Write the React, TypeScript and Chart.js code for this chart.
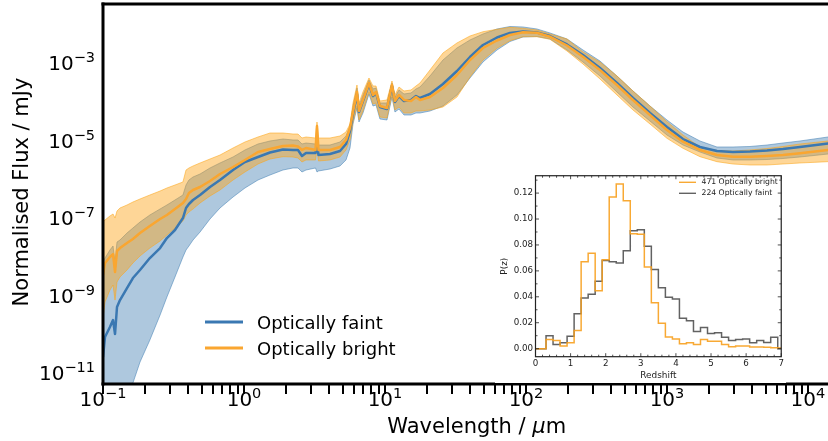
import React, { useEffect, useRef } from "react";
import { Chart, registerables } from "chart.js";

Chart.register(...registerables);

const FONT = '"DejaVu Sans", sans-serif';

// Rest-frame wavelength grid (μm) shared by all SED curves
const wavelength = [
  0.1, 0.1033, 0.112, 0.1178, 0.1217, 0.1257, 0.132, 0.148, 0.163, 0.183,
  0.215, 0.254, 0.284, 0.324, 0.369, 0.388, 0.407, 0.435, 0.488, 0.574,
  0.676, 0.836, 1.016, 1.257, 1.529, 1.89, 2.226, 2.415, 2.578, 2.753,
  3.215, 3.294, 3.376, 4.074, 4.797, 5.29, 5.647, 5.93, 6.33, 6.54,
  6.98, 7.7, 8.22, 8.64, 9.21, 10.33, 11.21, 11.77, 12.57, 13.64,
  15.29, 16.59, 17.71, 20.85, 25.78, 32.4, 40.07, 49.55, 62.28, 77.0,
  95.2, 119.7, 148.0, 195.4, 253.7, 334.8, 442, 574.1, 757.7, 1000,
  1299, 1714, 2262, 2939, 3879, 5120, 6649, 8776, 13870, 19860,
];

// log10 of normalised flux density (mJy)
const faintMedianLog = [
  -10.652, -10.135, -9.877, -9.697, -10.058, -9.361, -9.181, -8.871, -8.613, -8.406,
  -8.097, -7.839, -7.581, -7.374, -7.065, -6.806, -6.703, -6.6, -6.471, -6.264,
  -6.084, -5.826, -5.619, -5.49, -5.374, -5.297, -5.309, -5.309, -5.464, -5.387,
  -5.387, -5.129, -5.439, -5.413, -5.335, -5.155, -4.819, -4.381, -3.864, -4.329,
  -4.045, -3.606, -3.916, -3.839, -4.2, -4.252, -3.658, -4.071, -3.916, -4.045,
  -4.019, -3.916, -3.968, -3.864, -3.606, -3.271, -2.91, -2.6, -2.406, -2.29,
  -2.252, -2.277, -2.368, -2.587, -2.858, -3.194, -3.581, -3.968, -4.355, -4.716,
  -5.026, -5.232, -5.335, -5.361, -5.348, -5.322, -5.284, -5.232, -5.142, -5.077,
];
const faintLowerLog = [
  -13.568, -13.439, -13.052, -12.793, -12.69, -12.535, -12.277, -11.761, -11.323, -10.781,
  -10.213, -9.568, -9.103, -8.587, -8.071, -7.89, -7.787, -7.632, -7.426, -7.09,
  -6.806, -6.523, -6.29, -6.084, -5.955, -5.826, -5.774, -5.774, -5.877, -5.826,
  -5.774, -5.877, -5.851, -5.8, -5.722, -5.567, -5.258, -4.639, -4.226, -4.587,
  -4.355, -3.864, -4.174, -4.148, -4.51, -4.535, -3.942, -4.329, -4.252, -4.406,
  -4.406, -4.355, -4.355, -4.303, -4.174, -3.89, -3.452, -3.039, -2.729, -2.51,
  -2.394, -2.381, -2.445, -2.729, -3.039, -3.4, -3.813, -4.2, -4.561, -4.923,
  -5.181, -5.361, -5.516, -5.567, -5.567, -5.555, -5.529, -5.49, -5.413, -5.361,
];
const faintUpperLog = [
  -8.2, -8.097, -7.89, -7.787, -8.2, -7.684, -7.632, -7.452, -7.323, -7.168,
  -6.987, -6.832, -6.729, -6.6, -6.471, -6.213, -6.084, -6.006, -5.929, -5.774,
  -5.645, -5.49, -5.309, -5.155, -5.077, -5.026, -5.051, -5.051, -5.155, -5.129,
  -5.155, -4.793, -5.181, -5.181, -5.103, -4.948, -4.69, -4.174, -3.71, -4.174,
  -3.89, -3.503, -3.735, -3.71, -4.097, -4.097, -3.581, -3.942, -3.761, -3.864,
  -3.839, -3.735, -3.684, -3.4, -2.987, -2.677, -2.471, -2.316, -2.187, -2.123,
  -2.135, -2.187, -2.29, -2.445, -2.729, -3.013, -3.4, -3.787, -4.174, -4.535,
  -4.845, -5.077, -5.232, -5.232, -5.219, -5.181, -5.129, -5.077, -4.974, -4.923,
];
const brightMedianLog = [
  -8.536, -8.226, -8.071, -7.994, -8.458, -7.916, -7.839, -7.71, -7.606, -7.452,
  -7.271, -7.09, -6.987, -6.832, -6.677, -6.574, -6.419, -6.342, -6.264, -6.11,
  -5.929, -5.748, -5.567, -5.361, -5.284, -5.206, -5.194, -5.219, -5.309, -5.258,
  -5.309, -4.69, -5.309, -5.309, -5.232, -5.051, -4.742, -4.329, -3.813, -4.303,
  -4.019, -3.581, -3.89, -3.813, -4.174, -4.226, -3.632, -4.045, -3.89, -4.019,
  -4.045, -3.942, -4.019, -3.942, -3.71, -3.374, -2.987, -2.677, -2.484, -2.342,
  -2.272, -2.283, -2.386, -2.613, -2.902, -3.245, -3.632, -4.019, -4.406, -4.793,
  -5.095, -5.309, -5.439, -5.482, -5.482, -5.464, -5.439, -5.395, -5.309, -5.258,
];
const brightLowerLog = [
  -9.645, -9.232, -8.923, -8.794, -9.181, -8.716, -8.587, -8.406, -8.226, -8.045,
  -7.839, -7.658, -7.503, -7.323, -7.142, -6.987, -6.91, -6.832, -6.677, -6.497,
  -6.342, -6.084, -5.877, -5.671, -5.542, -5.482, -5.49, -5.516, -5.619, -5.567,
  -5.567, -5.309, -5.593, -5.567, -5.49, -5.309, -5.051, -4.587, -4.174, -4.535,
  -4.303, -3.813, -4.123, -4.097, -4.458, -4.484, -3.89, -4.277, -4.2, -4.355,
  -4.355, -4.303, -4.303, -4.277, -4.2, -3.942, -3.426, -2.987, -2.685, -2.489,
  -2.386, -2.386, -2.453, -2.755, -3.09, -3.477, -3.89, -4.277, -4.639, -5.008,
  -5.266, -5.482, -5.611, -5.671, -5.697, -5.697, -5.671, -5.645, -5.611, -5.567,
];
const brightUpperLog = [
  -7.168, -7.116, -7.013, -6.961, -7.065, -6.884, -6.806, -6.729, -6.652, -6.574,
  -6.471, -6.368, -6.29, -6.213, -6.135, -5.826, -5.774, -5.722, -5.645, -5.542,
  -5.439, -5.258, -5.103, -4.974, -4.871, -4.871, -4.897, -4.897, -5.0, -4.974,
  -5.0, -4.587, -5.0, -5.0, -4.948, -4.845, -4.639, -4.097, -3.632, -4.097,
  -3.813, -3.452, -3.658, -3.658, -4.045, -4.019, -3.529, -3.89, -3.684, -3.787,
  -3.761, -3.658, -3.581, -3.245, -2.806, -2.548, -2.368, -2.257, -2.195, -2.143,
  -2.169, -2.213, -2.316, -2.445, -2.78, -3.039, -3.4, -3.787, -4.174, -4.579,
  -4.923, -5.232, -5.322, -5.335, -5.309, -5.271, -5.219, -5.155, -5.077, -5.026,
];

// Axis ranges, tick positions and labelled decades
const xMin = 0.1;
const xMax = 2e4;
const yMin = 4.49e-12;
const yMax = 0.0287;
const xDecades = [-1, 0, 1, 2, 3, 4];
const yDecades = [-3, -5, -7, -9, -11];
const xTickMultipliers = [1, 2, 3, 4, 5, 6, 7, 8, 9];

// Redshift distributions (bin centres, normalised to unit sum)
const redshiftCentres = [
  0, 0.2, 0.4, 0.6, 0.8, 1.0, 1.2, 1.4, 1.6, 1.8, 2.0, 2.2, 2.4, 2.6, 2.8, 3.0, 3.2, 3.4,
  3.6, 3.8, 4.0, 4.2, 4.4, 4.6, 4.8, 5.0, 5.2, 5.4, 5.6, 5.8, 6.0, 6.2, 6.4, 6.6, 6.8, 7.0,
];
const brightPz = [
  0, 0, 0.007, 0.0063, 0.002, 0.0045, 0.014, 0.067, 0.0736, 0.0447, 0.0686, 0.117, 0.127,
  0.114, 0.0887, 0.0882, 0.063, 0.0354, 0.0196, 0.009, 0.0075, 0.0038, 0.0045, 0.0033,
  0.007, 0.0058, 0.0058, 0.0033, 0.0015, 0.002, 0.002, 0.0013, 0.0013, 0.001, 0.0008, 0.0005,
];
const faintPz = [
  0, 0, 0.01, 0.0033, 0.0045, 0.0095, 0.027, 0.039, 0.042, 0.052, 0.068, 0.067, 0.066,
  0.0756, 0.091, 0.0917, 0.079, 0.061, 0.047, 0.0397, 0.0384, 0.0234, 0.0216, 0.0133,
  0.0163, 0.0116, 0.0123, 0.0088, 0.0063, 0.007, 0.0075, 0.0045, 0.0063, 0.0048, 0.0088, 0,
];
const pzTicks = [0, 0.02, 0.04, 0.06, 0.08, 0.1, 0.12];
const pzMin = -0.0062;
const pzMax = 0.1334;

const BLUE = "rgb(58,120,178)";
const ORANGE = "rgb(250,166,48)";
const BLUE_FILL = "rgba(70,130,180,0.44)";
const BLUE_EDGE = "rgba(70,130,180,0.55)";
const ORANGE_FILL = "rgba(252,165,25,0.45)";
const ORANGE_EDGE = "rgba(252,165,25,0.55)";

const toPoints = (logs: number[]) => wavelength.map((w, i) => ({ x: w, y: Math.pow(10, logs[i]) }));

function drawPower(ctx: CanvasRenderingContext2D, exp: string, x: number, baseY: number, align: "center" | "right") {
  ctx.font = `20px ${FONT}`;
  const wBase = ctx.measureText("10").width;
  ctx.font = `14.5px ${FONT}`;
  const wExp = ctx.measureText(exp).width;
  const total = wBase + wExp;
  const left = align === "center" ? x - total / 2 : x - total;
  ctx.textAlign = "left";
  ctx.textBaseline = "alphabetic";
  ctx.font = `20px ${FONT}`;
  ctx.fillText("10", left, baseY);
  ctx.font = `14.5px ${FONT}`;
  ctx.fillText(exp, left + wBase, baseY - 8);
}

const expText = (n: number) => (n < 0 ? "\u2212" + Math.abs(n) : String(n));

const sedDecor = {
  id: "sedDecor",
  afterDraw(chart: any) {
    const ctx: CanvasRenderingContext2D = chart.ctx;
    const area = chart.chartArea;
    const xs = chart.scales.x;
    const ys = chart.scales.y;
    const x0 = area.left;
    const x1 = area.right;
    const y0 = area.top;
    const y1 = area.bottom;
    ctx.save();
    ctx.fillStyle = "#000";
    ctx.strokeStyle = "#000";

    // frame: left, top and bottom spines
    ctx.fillRect(x0 - 1.5, y0 - 1.5, x1 - x0 + 3, 3);
    ctx.fillRect(x0 - 1.5, y1 - 1.5, x1 - x0 + 3, 3);
    ctx.fillRect(x0 - 1.5, y0 - 1.5, 3, y1 - y0 + 3);

    // outward tick marks on the wavelength axis
    ctx.lineWidth = 2;
    ctx.beginPath();
    for (const n of xDecades) {
      for (const k of xTickMultipliers) {
        const v = k * Math.pow(10, n);
        if (v < xMin || v > xMax) continue;
        const px = Math.round(xs.getPixelForValue(v));
        ctx.moveTo(px, y1 + 1);
        ctx.lineTo(px, y1 + 10);
      }
    }
    ctx.stroke();

    for (const n of xDecades) {
      const px = xs.getPixelForValue(Math.pow(10, n));
      drawPower(ctx, expText(n), px, 406, "center");
    }
    for (const n of yDecades) {
      const py = ys.getPixelForValue(Math.pow(10, n));
      drawPower(ctx, expText(n), 95, py + 9.5, "right");
    }

    // x axis title with italic mu
    const t1 = "Wavelength / ";
    ctx.font = `21px ${FONT}`;
    const w1 = ctx.measureText(t1).width;
    const wm = ctx.measureText("m").width;
    ctx.font = `italic 21px ${FONT}`;
    const wmu = ctx.measureText("\u03bc").width;
    const cx = (x0 + x1) / 2;
    let tx = cx - (w1 + wmu + wm) / 2;
    ctx.textAlign = "left";
    ctx.textBaseline = "alphabetic";
    ctx.font = `21px ${FONT}`;
    ctx.fillText(t1, tx, 432.5);
    tx += w1;
    ctx.font = `italic 21px ${FONT}`;
    ctx.fillText("\u03bc", tx, 432.5);
    tx += wmu;
    ctx.font = `21px ${FONT}`;
    ctx.fillText("m", tx, 432.5);

    // y axis title
    ctx.save();
    ctx.translate(28, 192);
    ctx.rotate(-Math.PI / 2);
    ctx.textAlign = "center";
    ctx.font = `21px ${FONT}`;
    ctx.fillText("Normalised Flux / mJy", 0, 0);
    ctx.restore();

    // legend
    const entries = [
      { label: "Optically faint", color: BLUE, y: 322 },
      { label: "Optically bright", color: ORANGE, y: 348 },
    ];
    for (const e of entries) {
      ctx.strokeStyle = e.color;
      ctx.lineWidth = 3;
      ctx.beginPath();
      ctx.moveTo(205, e.y);
      ctx.lineTo(243, e.y);
      ctx.stroke();
      ctx.fillStyle = "#000";
      ctx.font = `18px ${FONT}`;
      ctx.textAlign = "left";
      ctx.textBaseline = "alphabetic";
      ctx.fillText(e.label, 257, e.y + 6.5);
    }
    ctx.restore();
  },
};

const insetDecor = {
  id: "insetDecor",
  afterDraw(chart: any) {
    const { ctx, chartArea } = chart;
    const { left, right, top, bottom } = chartArea;
    const xs = chart.scales.x;
    const ys = chart.scales.y;
    ctx.save();
    ctx.strokeStyle = "#222";
    ctx.lineWidth = 1.2;
    ctx.strokeRect(left, top, right - left, bottom - top);

    ctx.lineWidth = 0.8;
    ctx.beginPath();
    for (let i = 0; i <= 35; i++) {
      const px = xs.getPixelForValue(i * 0.2);
      const len = i % 5 === 0 ? 3.5 : 2;
      ctx.moveTo(px, bottom);
      ctx.lineTo(px, bottom - len);
      ctx.moveTo(px, top);
      ctx.lineTo(px, top + len);
    }
    for (let i = 0; i <= 13; i++) {
      const py = ys.getPixelForValue(i * 0.01);
      const len = i % 2 === 0 ? 3.5 : 2;
      ctx.moveTo(left, py);
      ctx.lineTo(left + len, py);
      ctx.moveTo(right, py);
      ctx.lineTo(right - len, py);
    }
    ctx.stroke();

    // legend
    const entries = [
      { label: "471 Optically bright", color: "rgba(247,160,30,0.9)", y: 14.3 },
      { label: "224 Optically faint", color: "rgba(70,70,70,0.85)", y: 25.3 },
    ];
    for (const e of entries) {
      ctx.strokeStyle = e.color;
      ctx.lineWidth = 1.4;
      ctx.beginPath();
      ctx.moveTo(184, e.y);
      ctx.lineTo(201, e.y);
      ctx.stroke();
      ctx.fillStyle = "#222";
      ctx.font = `7.7px ${FONT}`;
      ctx.textAlign = "left";
      ctx.textBaseline = "middle";
      ctx.fillText(e.label, 206.5, e.y);
    }

    // axis titles
    ctx.fillStyle = "#222";
    ctx.font = `8.9px ${FONT}`;
    ctx.textAlign = "center";
    ctx.textBaseline = "middle";
    ctx.fillText("Redshift", (left + right) / 2, 207.7);
    ctx.save();
    ctx.translate(10, (top + bottom) / 2);
    ctx.rotate(-Math.PI / 2);
    ctx.fillText("P(z)", 0, 0);
    ctx.restore();
    ctx.restore();
  },
};

export default function App() {
  const mainRef = useRef<HTMLCanvasElement>(null);
  const insetRef = useRef<HTMLCanvasElement>(null);

  useEffect(() => {
    const main = new Chart(mainRef.current as HTMLCanvasElement, {
      type: "line",
      data: {
        datasets: [
          { label: "Optically faint", data: toPoints(faintMedianLog), borderColor: BLUE, borderWidth: 2.5, fill: false, order: 2 },
          { label: "Optically bright", data: toPoints(brightMedianLog), borderColor: ORANGE, borderWidth: 2.5, fill: false, order: 1 },
          { label: "faint lower", data: toPoints(faintLowerLog), borderColor: BLUE_EDGE, borderWidth: 1, fill: false, order: 6 },
          { label: "faint upper", data: toPoints(faintUpperLog), borderColor: BLUE_EDGE, borderWidth: 1, fill: 2, backgroundColor: BLUE_FILL, order: 6 },
          { label: "bright lower", data: toPoints(brightLowerLog), borderColor: ORANGE_EDGE, borderWidth: 1, fill: false, order: 4 },
          { label: "bright upper", data: toPoints(brightUpperLog), borderColor: ORANGE_EDGE, borderWidth: 1, fill: 4, backgroundColor: ORANGE_FILL, order: 4 },
        ] as any,
      },
      options: {
        animation: false,
        responsive: false,
        maintainAspectRatio: false,
        devicePixelRatio: 1,
        layout: { padding: { top: 4, left: 0, right: 19.6, bottom: 0 } },
        plugins: { legend: { display: false }, tooltip: { enabled: false } },
        elements: { point: { radius: 0 }, line: { tension: 0, borderJoinStyle: "round" } },
        scales: {
          x: {
            type: "logarithmic",
            min: xMin,
            max: xMax,
            afterFit: (s: any) => {
              s.height = 57;
            },
            ticks: { display: false },
            grid: { display: false },
            border: { display: false },
          },
          y: {
            type: "logarithmic",
            min: yMin,
            max: yMax,
            afterFit: (s: any) => {
              s.width = 103;
            },
            ticks: { display: false },
            grid: { display: false },
            border: { display: false },
          },
        },
      } as any,
      plugins: [sedDecor],
    });

    const inset = new Chart(insetRef.current as HTMLCanvasElement, {
      type: "line",
      data: {
        datasets: [
          {
            label: "471 Optically bright",
            data: redshiftCentres.map((z, i) => ({ x: z, y: brightPz[i] })),
            stepped: "middle",
            borderColor: "rgba(247,160,30,0.9)",
            borderWidth: 1.5,
            fill: false,
          },
          {
            label: "224 Optically faint",
            data: redshiftCentres.map((z, i) => ({ x: z, y: faintPz[i] })),
            stepped: "middle",
            borderColor: "rgba(70,70,70,0.85)",
            borderWidth: 1.5,
            fill: false,
          },
        ] as any,
      },
      options: {
        animation: false,
        responsive: false,
        maintainAspectRatio: false,
        devicePixelRatio: 1,
        layout: { padding: { top: 4.3, left: 0, right: 1.5, bottom: 0 } },
        plugins: { legend: { display: false }, tooltip: { enabled: false } },
        elements: { point: { radius: 0 }, line: { tension: 0 } },
        scales: {
          x: {
            type: "linear",
            min: 0,
            max: 7,
            afterFit: (s: any) => {
              s.height = 26.3;
            },
            ticks: { stepSize: 1, font: { family: FONT, size: 8.7 }, color: "#222", padding: 2, maxRotation: 0 },
            grid: { display: false, drawTicks: false },
            border: { display: false },
          },
          y: {
            type: "linear",
            min: pzMin,
            max: pzMax,
            afterBuildTicks: (s: any) => {
              s.ticks = pzTicks.map((v) => ({ value: v }));
            },
            afterFit: (s: any) => {
              s.width = 40.5;
            },
            ticks: {
              font: { family: FONT, size: 8.7 },
              color: "#222",
              padding: 2.5,
              callback: (v: any) => Number(v).toFixed(2),
            },
            grid: { display: false, drawTicks: false },
            border: { display: false },
          },
        },
      } as any,
      plugins: [insetDecor],
    });

    return () => {
      main.destroy();
      inset.destroy();
    };
  }, []);

  return (
    <div style={{ position: "absolute", left: 0, top: 0, width: 828, height: 441, overflow: "hidden", background: "#fff" }}>
      <canvas ref={mainRef} width={870} height={441} style={{ position: "absolute", left: 0, top: 0, width: 870, height: 441 }} />
      <canvas ref={insetRef} width={291} height={215} style={{ position: "absolute", left: 495, top: 168, width: 291, height: 215, background: "#fff" }} />
    </div>
  );
}
